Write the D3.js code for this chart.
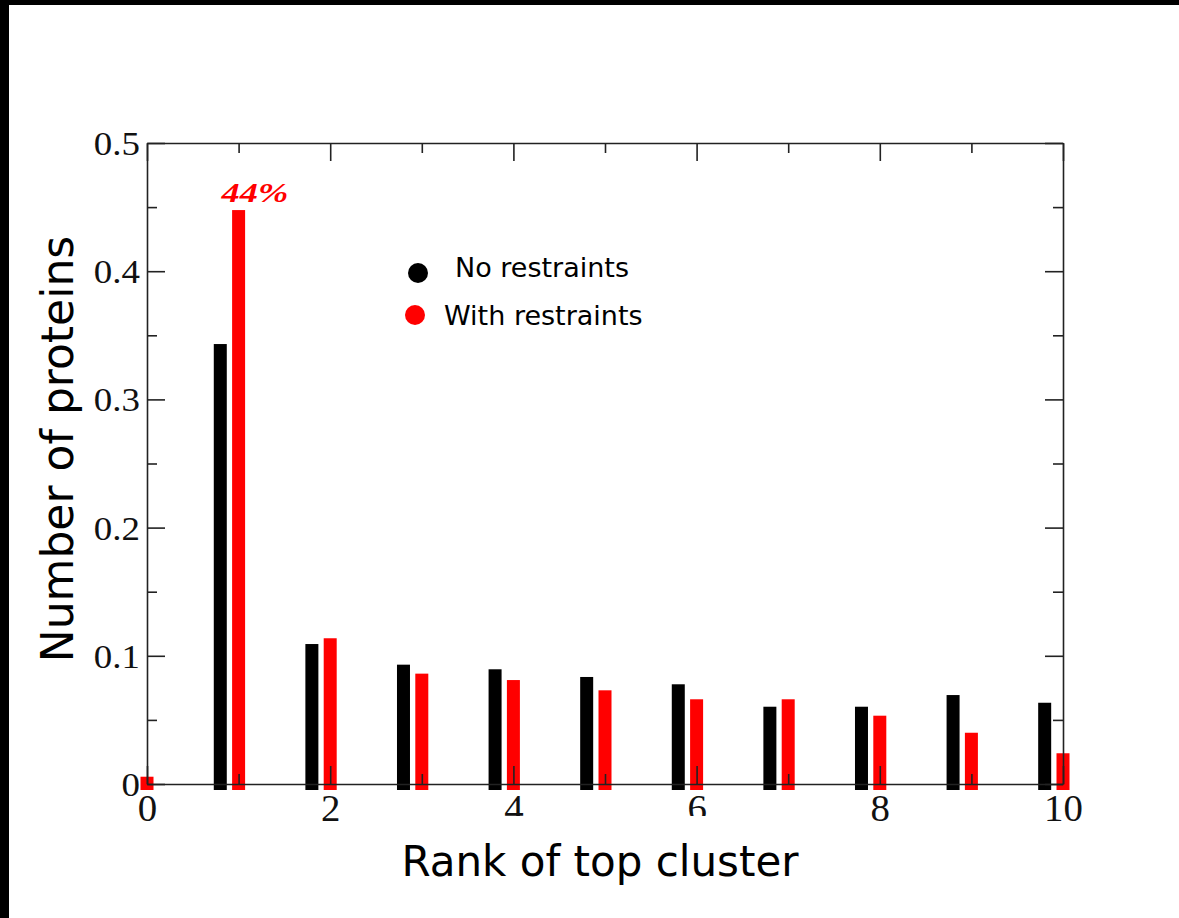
<!DOCTYPE html>
<html>
<head>
<meta charset="utf-8">
<script src="https://cdn.jsdelivr.net/npm/d3@7"></script>
<style>
  html, body { margin: 0; padding: 0; background: #fff; }
  svg { display: block; }
</style>
</head>
<body>
<svg id="chart" width="1179" height="918"></svg>
<script>
// Fraction of proteins whose top-ranked cluster falls at each rank
const ranks = [0, 1, 2, 3, 4, 5, 6, 7, 8, 9, 10];
const noRestraintRanks = [1, 2, 3, 4, 5, 6, 7, 8, 9, 10];
const noRestraints = [0.3385, 0.1045, 0.0884, 0.0848, 0.0788, 0.0731, 0.0556, 0.0556, 0.0647, 0.0587];
const withRestraints = [0.001, 0.443, 0.109, 0.0814, 0.0764, 0.0684, 0.0614, 0.0614, 0.0486, 0.0353, 0.0193];
const xMajorTicks = [0, 2, 4, 6, 8, 10];
const xMinorTicks = [1, 3, 5, 7, 9];
const yMajorTicks = [0, 0.1, 0.2, 0.3, 0.4, 0.5];
const yMinorTicks = [0.05, 0.15, 0.25, 0.35, 0.45];
const seriesNames = ["No restraints", "With restraints"];
const seriesColors = ["#000000", "#ff0000"];

(function draw() {
  const svg = d3.select("#chart");

  // dark frame along the top and left edges
  svg.append("rect").attr("x", 0).attr("y", 0).attr("width", 1179).attr("height", 5).attr("fill", "#000");
  svg.append("rect").attr("x", 0).attr("y", 0).attr("width", 9).attr("height", 918).attr("fill", "#000");

  const x = d3.scaleLinear().domain([0, 10]).range([147, 1063]);
  const y = d3.scaleLinear().domain([0, 0.5]).range([784, 143]);

  const barW = 13;
  const capPad = 6;   // bars overshoot both ends slightly
  const offset = 0.2; // black bar sits left of the rank

  // bars
  const g = svg.append("g");
  g.selectAll("rect.nr").data(noRestraintRanks.map((r, i) => ({r, v: noRestraints[i]})))
    .join("rect").attr("class", "nr")
    .attr("x", d => x(d.r - offset) - barW / 2)
    .attr("y", d => y(d.v) - capPad)
    .attr("width", barW)
    .attr("height", d => y(0) - y(d.v) + 2 * capPad)
    .attr("fill", seriesColors[0]);
  g.selectAll("rect.wr").data(ranks.map((r, i) => ({r, v: withRestraints[i]})))
    .join("rect").attr("class", "wr")
    .attr("x", d => x(d.r) - barW / 2)
    .attr("y", d => y(d.v) - capPad)
    .attr("width", barW)
    .attr("height", d => y(0) - y(d.v) + 2 * capPad)
    .attr("fill", seriesColors[1]);

  // axes: ticks point inward on all four sides
  const axisColor = "#222";
  function styleAxis(sel) {
    sel.select(".domain").attr("stroke", axisColor).attr("stroke-width", 1.6);
    sel.selectAll(".tick line").attr("stroke", axisColor).attr("stroke-width", 1.6);
  }
  function noDomain(sel) {
    sel.select(".domain").remove();
    sel.selectAll(".tick line").attr("stroke", axisColor).attr("stroke-width", 1.6);
  }

  const serif = "'Liberation Serif', 'DejaVu Serif', serif";

  // left
  const leftAxis = svg.append("g").attr("transform", `translate(${x(0)},0)`)
    .call(d3.axisLeft(y).tickValues(yMajorTicks).tickSizeInner(-18).tickSizeOuter(0)
      .tickFormat(d => d === 0 ? "0" : d3.format(".1f")(d)));
  styleAxis(leftAxis);
  leftAxis.selectAll(".tick text")
    .attr("x", 0).attr("dy", "0.35em")
    .attr("transform", "translate(-7,0) scale(1.12,1)")
    .attr("text-anchor", "end")
    .style("font-family", serif).style("font-size", "33px").attr("fill", "#111");
  svg.append("g").attr("transform", `translate(${x(0)},0)`)
    .call(d3.axisLeft(y).tickValues(yMinorTicks).tickSize(-10).tickFormat(""))
    .call(noDomain);

  // right
  const rightAxis = svg.append("g").attr("transform", `translate(${x(10)},0)`)
    .call(d3.axisRight(y).tickValues(yMajorTicks).tickSizeInner(-18).tickSizeOuter(0).tickFormat(""));
  styleAxis(rightAxis);
  svg.append("g").attr("transform", `translate(${x(10)},0)`)
    .call(d3.axisRight(y).tickValues(yMinorTicks).tickSize(-10).tickFormat(""))
    .call(noDomain);

  // top
  const topAxis = svg.append("g").attr("transform", `translate(0,${y(0.5)})`)
    .call(d3.axisTop(x).tickValues(xMajorTicks).tickSizeInner(-18).tickSizeOuter(0).tickFormat(""));
  styleAxis(topAxis);
  svg.append("g").attr("transform", `translate(0,${y(0.5)})`)
    .call(d3.axisTop(x).tickValues(xMinorTicks).tickSize(-10).tickFormat(""))
    .call(noDomain);

  // bottom
  const bottomAxis = svg.append("g").attr("transform", `translate(0,${y(0)})`)
    .call(d3.axisBottom(x).tickValues(xMajorTicks).tickSizeInner(-18).tickSizeOuter(0).tickFormat(d3.format("d")));
  styleAxis(bottomAxis);
  bottomAxis.selectAll(".tick text")
    .attr("y", 0).attr("dy", 0)
    .attr("transform", "translate(0,37) scale(1.05,1)")
    .style("font-family", serif).style("font-size", "37px").attr("fill", "#111");
  svg.append("g").attr("transform", `translate(0,${y(0)})`)
    .call(d3.axisBottom(x).tickValues(xMinorTicks).tickSize(-10).tickFormat(""))
    .call(noDomain);

  // value label on the tallest bar
  svg.append("text")
    .attr("transform", `translate(${x(1) - 17},${y(withRestraints[1]) - 14}) scale(1.3,1)`)
    .style("font-family", serif).style("font-size", "28px")
    .style("font-weight", "bold").style("font-style", "italic")
    .attr("fill", seriesColors[1])
    .text(d3.format(".0%")(withRestraints[1]));

  // axis titles (x title sits on a white panel)
  const sans = "'DejaVu Sans', Verdana, sans-serif";
  svg.append("rect").attr("x", 390).attr("y", 816).attr("width", 420).attr("height", 80).attr("fill", "#fff");
  svg.append("text")
    .attr("x", 600).attr("y", 876).attr("text-anchor", "middle")
    .style("font-family", sans).style("font-size", "42px").attr("fill", "#000")
    .text("Rank of top cluster");
  svg.append("text")
    .attr("transform", "translate(73,449) rotate(-90)").attr("text-anchor", "middle")
    .style("font-family", sans).style("font-size", "44px").attr("fill", "#000")
    .text("Number of proteins");

  // legend
  const legend = svg.append("g");
  const legendItems = [
    {name: seriesNames[0], color: seriesColors[0], cx: 418, cy: 273, tx: 455, ty: 277},
    {name: seriesNames[1], color: seriesColors[1], cx: 415, cy: 315, tx: 444, ty: 325}
  ];
  legendItems.forEach(it => {
    legend.append("circle").attr("cx", it.cx).attr("cy", it.cy).attr("r", 10).attr("fill", it.color);
    legend.append("text").attr("x", it.tx).attr("y", it.ty)
      .style("font-family", sans).style("font-size", "27px").attr("fill", "#000")
      .text(it.name);
  });
})();
</script>
</body>
</html>
